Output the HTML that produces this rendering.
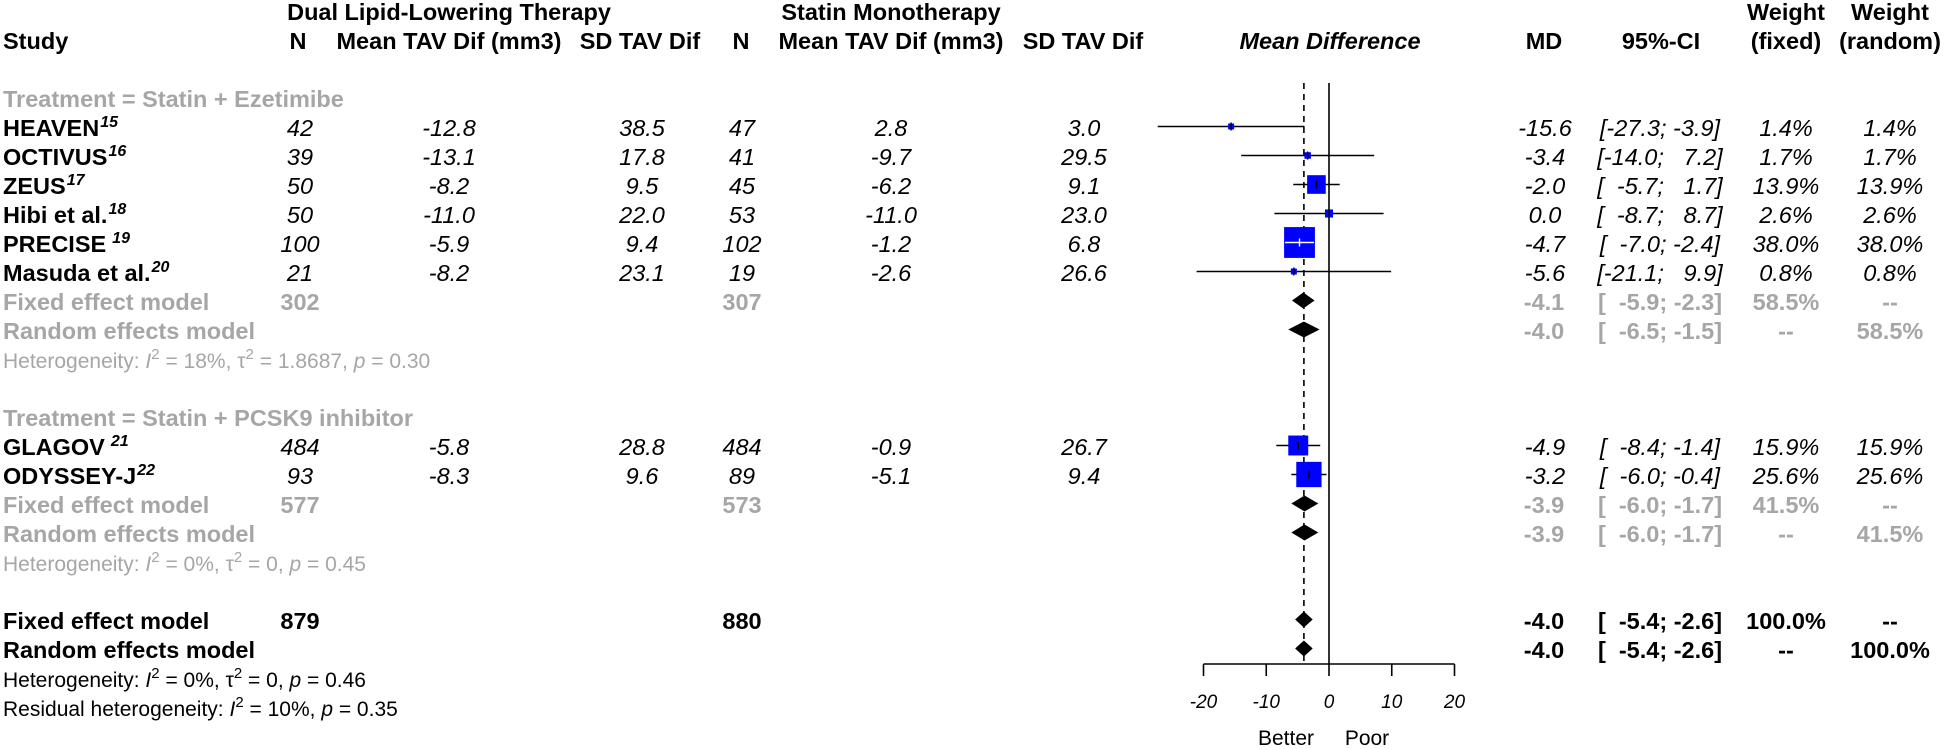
<!DOCTYPE html>
<html><head><meta charset="utf-8">
<style>
html,body{margin:0;padding:0;background:#fff;}
svg{display:block;font-family:"Liberation Sans",Arial,sans-serif;}
.b{font-weight:bold;}
.i{font-style:italic;}
</style></head>
<body>
<svg id="chart" xmlns="http://www.w3.org/2000/svg" width="1945" height="749" viewBox="0 0 1945 749">
  <g id="txt" font-size="23.5"></g>
  <g id="plot"></g>
</svg>
<script>
// ---- data ----
const studies = ["HEAVEN","OCTIVUS","ZEUS","Hibi et al.","PRECISE","Masuda et al.","GLAGOV","ODYSSEY-J"];
const refs = ["15","16","17","18","19","20","21","22"];
const refGap = [false,false,false,false,true,false,true,false];
const studyRows = [4,5,6,7,8,9,15,16];
const nDual = [42,39,50,50,100,21,484,93];
const meanDual = ["-12.8","-13.1","-8.2","-11.0","-5.9","-8.2","-5.8","-8.3"];
const sdDual = ["38.5","17.8","9.5","22.0","9.4","23.1","28.8","9.6"];
const nStatin = [47,41,45,53,102,19,484,89];
const meanStatin = ["2.8","-9.7","-6.2","-11.0","-1.2","-2.6","-0.9","-5.1"];
const sdStatin = ["3.0","29.5","9.1","23.0","6.8","26.6","26.7","9.4"];
const md = [-15.6,-3.4,-2.0,0.0,-4.7,-5.6,-4.9,-3.2];
const ciLow = [-27.3,-14.0,-5.7,-8.7,-7.0,-21.1,-8.4,-6.0];
const ciHigh = [-3.9,7.2,1.7,8.7,-2.4,9.9,-1.4,-0.4];
const wFixed = [1.4,1.7,13.9,2.6,38.0,0.8,15.9,25.6];
const wRandom = [1.4,1.7,13.9,2.6,38.0,0.8,15.9,25.6];

const sumLabels = ["Fixed effect model","Random effects model","Fixed effect model","Random effects model","Fixed effect model","Random effects model"];
const sumRows = [10,11,17,18,21,22];
const sumMd = [-4.1,-4.0,-3.9,-3.9,-4.0,-4.0];
const sumLow = [-5.9,-6.5,-6.0,-6.0,-5.4,-5.4];
const sumHigh = [-2.3,-1.5,-1.7,-1.7,-2.6,-2.6];
const sumWFixed = ["58.5%","--","41.5%","--","100.0%","--"];
const sumWRandom = ["--","58.5%","--","41.5%","--","100.0%"];
const sumNDual = ["302","","577","","879",""];
const sumNStatin = ["307","","573","","880",""];
const sumGray = [true,true,true,true,false,false];

const xTicks = [-20,-10,0,10,20];
const overallFixed = -4.0;

// ---- layout ----
const NS = "http://www.w3.org/2000/svg";
const txt = document.getElementById('txt');
const plot = document.getElementById('plot');
const GRAY = "#a6a6a6";
function rowY(i){ return 20 + 29*i; }
function xs(v){ return 1329 + v*6.275; }
function mk(tag, parent, attrs){ const e=document.createElementNS(NS,tag); for(const k in attrs) e.setAttribute(k,attrs[k]); parent.appendChild(e); return e; }
function T(s, x, y, anchor, cls, fill, size){
  const e = mk('text', txt, {x:x, y:y, 'text-anchor':anchor||'start'});
  if(cls) e.setAttribute('class', cls);
  if(fill) e.setAttribute('fill', fill);
  if(size) e.setAttribute('font-size', size);
  e.setAttribute('xml:space','preserve');
  e.textContent = s;
  return e;
}
const FS = "\u2007";
function pad(v,w){ let s=v.toFixed(1); while(s.length<w) s=FS+s; return s; }
function ciStr(lo,hi){ return "["+pad(lo,5)+"; "+pad(hi,4)+"]"; }

// headers
let e;
e = T("Dual Lipid-Lowering Therapy",449,rowY(0),'middle','b');
 
e = T("Statin Monotherapy",891,rowY(0),'middle','b');
 
e = T("Weight",1786,rowY(0),'middle','b');
 
e = T("Weight",1890,rowY(0),'middle','b');
 
const hdr = [["Study",3,'start'],["N",298,'middle'],["Mean TAV Dif (mm3)",449,'middle'],["SD TAV Dif",640,'middle'],["N",741,'middle'],["Mean TAV Dif (mm3)",891,'middle'],["SD TAV Dif",1083,'middle'],["MD",1544,'middle'],["95%-CI",1661,'middle'],["(fixed)",1786,'middle'],["(random)",1890,'middle']];
hdr.forEach(h=>{ const t=T(h[0],h[1],rowY(1),h[2],'b');
  
   });
e = T("Mean Difference",1330,rowY(1),'middle','b i');
 

// subgroup titles
e = T("Treatment = Statin + Ezetimibe",3,rowY(3),'start','b',GRAY);
 
e = T("Treatment = Statin + PCSK9 inhibitor",3,rowY(14),'start','b',GRAY);
 

// study rows
studies.forEach((s,i)=>{
  const y = rowY(studyRows[i]);
  const t = T(s,3,y,'start','b');
  
  
  const sp = mk('tspan', t, {dy:-9, 'font-size':16, 'font-style':'italic', dx: refGap[i]?6:1});
  sp.textContent = refs[i];
  const cells = [[String(nDual[i]),300],[meanDual[i],449],[sdDual[i],642],[String(nStatin[i]),742],[meanStatin[i],891],[sdStatin[i],1084],[md[i].toFixed(1),1545],[ciStr(ciLow[i],ciHigh[i]),1660],[wFixed[i].toFixed(1)+"%",1786],[wRandom[i].toFixed(1)+"%",1890]];
  cells.forEach(c=>{ const ct=T(c[0],c[1],y,'middle','i');
    
     });
});

// summary rows
sumLabels.forEach((s,i)=>{
  const y = rowY(sumRows[i]);
  const col = sumGray[i]?GRAY:"#000";
  const t = T(s,3,y,'start','b',col);
  
  
  const cells = [[sumNDual[i],300],[sumNStatin[i],742],[sumMd[i].toFixed(1),1544],[ciStr(sumLow[i],sumHigh[i]),1660],[sumWFixed[i],1786],[sumWRandom[i],1890]];
  cells.forEach(c=>{ if(!c[0]) return; const ct=T(c[0],c[1],y,'middle','b',col);
    
     });
});

// heterogeneity lines
function het(row, parts, col, name){
  const t = mk('text', txt, {x:3, y:rowY(row), 'font-size':21, fill:col});
  t.setAttribute('xml:space','preserve');
  
  
  parts.forEach(p=>{ const sp=mk('tspan',t,{}); if(p[1]==='sup'){ sp.setAttribute('dy',-9); sp.setAttribute('font-size',15);} if(p[1]==='after'){ sp.setAttribute('dy',9);} if(p[2]) sp.setAttribute('font-style','italic'); sp.textContent=p[0]; });
}
het(12,[["Heterogeneity: ",""],["I","",1],["2","sup"],[" = 18%, \u03c4","after"],["2","sup"],[" = 1.8687, ","after"],["p","",1],[" = 0.30",""]],GRAY,'heterogeneity-ezetimibe');
het(19,[["Heterogeneity: ",""],["I","",1],["2","sup"],[" = 0%, \u03c4","after"],["2","sup"],[" = 0, ","after"],["p","",1],[" = 0.45",""]],GRAY,'heterogeneity-pcsk9');
het(23,[["Heterogeneity: ",""],["I","",1],["2","sup"],[" = 0%, \u03c4","after"],["2","sup"],[" = 0, ","after"],["p","",1],[" = 0.46",""]],"#000",'heterogeneity-overall');
het(24,[["Residual heterogeneity: ",""],["I","",1],["2","sup"],[" = 10%, ","after"],["p","",1],[" = 0.35",""]],"#000",'residual-heterogeneity');

// ---- plot ----
const yTop = 83, yAxis = 664;
let l = mk('line', plot, {x1:xs(0), x2:xs(0), y1:yTop, y2:yAxis, stroke:'#000','stroke-width':1.6});
 
l = mk('line', plot, {x1:xs(overallFixed), x2:xs(overallFixed), y1:yTop, y2:yAxis, stroke:'#000','stroke-width':1.6,'stroke-dasharray':'6,5'});
 

studies.forEach((s,i)=>{
  const cy = rowY(studyRows[i]) - 9.5;
  const side = Math.max(6, 5.0*Math.sqrt(wFixed[i]));
  const x1 = xs(ciLow[i]), x2 = xs(ciHigh[i]), cx = xs(md[i]);
  const inner = side > (x2-x1);
  const ci = mk('line', plot, {x1:x1, x2:x2, y1:cy, y2:cy, stroke:'#000','stroke-width':1.6});
  
  
  const sq = mk('rect', plot, {x:cx-side/2, y:cy-side/2, width:side, height:side, fill:'#0000ff'});
  
  
  if(inner){
    const w = mk('line', plot, {x1:x1, x2:x2, y1:cy, y2:cy, stroke:'#fff','stroke-width':1.4});
    
    
  }
  const tk = mk('line', plot, {x1:cx, x2:cx, y1:cy-4, y2:cy+4, stroke: inner?'#fff':'#000','stroke-width':1.4});
  
  
});

sumRows.forEach((r,i)=>{
  const cy = rowY(r) - 9.5;
  const h = 8;
  const d = mk('polygon', plot, {points:[xs(sumLow[i])+','+cy, xs(sumMd[i])+','+(cy-h), xs(sumHigh[i])+','+cy, xs(sumMd[i])+','+(cy+h)].join(' '), fill:'#000'});
  
  
});

// axis
const ax = mk('line', plot, {x1:xs(xTicks[0]), x2:xs(xTicks[xTicks.length-1]), y1:yAxis, y2:yAxis, stroke:'#000','stroke-width':1.6});


xTicks.forEach(v=>{
  const tk = mk('line', plot, {x1:xs(v), x2:xs(v), y1:yAxis, y2:yAxis+12, stroke:'#000','stroke-width':1.6});
  
  
  const lb = mk('text', plot, {x:xs(v), y:708, 'text-anchor':'middle','font-size':19,'font-style':'italic'});
  
  
  lb.textContent = String(v);
});
let lbl = mk('text', plot, {x:1286, y:745, 'text-anchor':'middle','font-size':21});


lbl.textContent = "Better";
lbl = mk('text', plot, {x:1367, y:745, 'text-anchor':'middle','font-size':21});


lbl.textContent = "Poor";
</script>
</body></html>
